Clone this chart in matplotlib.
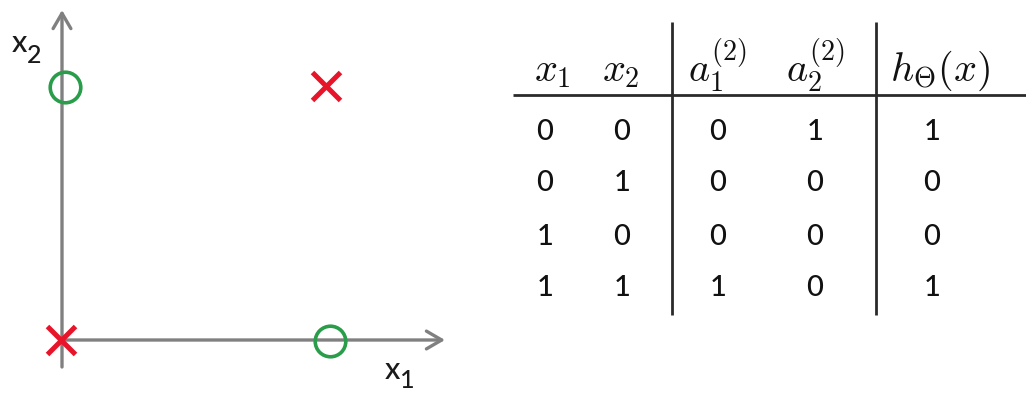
import numpy as np
import matplotlib
matplotlib.use("Agg")
import matplotlib.pyplot as plt

plt.rcParams['mathtext.fontset'] = 'cm'

# XNOR truth table
x1 = [0, 0, 1, 1]
x2 = [0, 1, 0, 1]
a1 = [0, 0, 0, 1]
a2 = [1, 0, 0, 0]
h = [1, 0, 0, 1]
headers = [r'$x_1$', r'$x_2$', r'$a_1^{(2)}$', r'$a_2^{(2)}$', r'$h_\Theta(x)$']

W, H = 1026, 394
fig = plt.figure(figsize=(W / 100, H / 100), dpi=100)
fig.patch.set_facecolor('white')

# ---- left: scatter of the four inputs ----
# pixel layout: origin at (62, 340), unit = 265 px across, 254 px up
ox, oy, ux, uy = 62, 340, 265, 254
axw = 460
ax = fig.add_axes([0, 0, axw / W, 1])
ax.set_xlim((0 - ox) / ux, (axw - ox) / ux)
ax.set_ylim((oy - H) / uy, oy / uy)
ax.axis('off')

grey = '#808080'
arrow = dict(arrowstyle='->, head_length=0.55, head_width=0.32', color=grey,
             lw=2.4, mutation_scale=20, shrinkA=0, shrinkB=0)
ax.annotate('', xy=(0, (oy - 10) / uy), xytext=(0, (oy - 367) / uy), arrowprops=arrow)
ax.annotate('', xy=((445 - ox) / ux, 0), xytext=(0, 0), arrowprops=arrow)

x1a, x2a, ha = np.array(x1), np.array(x2), np.array(h)
pos = ha == 1
ax.plot(x1a[~pos] + 0.01, x2a[~pos] - 0.005, 'o', ms=22, mfc='none', mec='#2a9d4a', mew=2.6, zorder=3)
ax.plot(x1a[pos] - 0.005, x2a[pos] + 0.0, 'x', ms=20, mec='#e8142a', mew=3.6, zorder=4)

lab = dict(family='Lato', color='#1a1a1a', fontweight='medium')
ax.text((12 - ox) / ux, (oy - 43) / uy, 'x', fontsize=22, va='center', ha='left', **lab)
ax.text((27 - ox) / ux, (oy - 55) / uy, '2', fontsize=18, va='center', ha='left', **lab)
ax.text((385 - ox) / ux, (oy - 370) / uy, 'x', fontsize=22, va='center', ha='left', **lab)
ax.text((400 - ox) / ux, (oy - 381) / uy, '1', fontsize=18, va='center', ha='left', **lab)

# ---- right: truth table ----
tb = fig.add_axes([0, 0, 1, 1], facecolor='none')
tb.set_xlim(0, W)
tb.set_ylim(H, 0)
tb.axis('off')

line = dict(color='#2a2a2a', lw=2.0, solid_capstyle='butt')
tb.plot([513, W], [95, 95], **line)
tb.plot([672, 672], [22, 315], **line)
tb.plot([876, 876], [22, 315], **line)

head_x = [552, 621, 718, 816, 940]
for hx, txt in zip(head_x, headers):
    tb.text(hx, 81, txt, fontsize=29, ha='center', va='baseline', color='#111111')

col_x = [545, 622, 718, 815, 932]
row_y = [132, 183, 237, 288]
cols = [x1, x2, a1, a2, h]
for cx, vals in zip(col_x, cols):
    for ry, v in zip(row_y, vals):
        tb.text(cx, ry, str(v), fontsize=21, ha='center', va='center',
                family='Lato', fontweight='medium', color='#111111')

fig.savefig('out.png', dpi=100)
